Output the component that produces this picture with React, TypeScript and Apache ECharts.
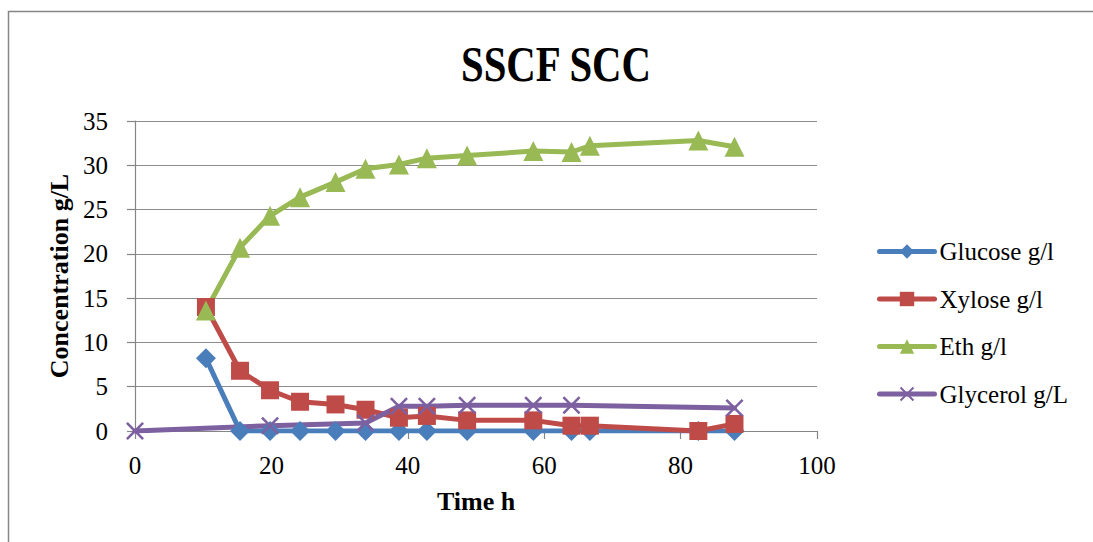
import React, { useEffect, useRef } from "react";
import * as echarts from "echarts";

const sugarTimes = [10.4, 15.4, 19.8, 24.2, 29.4, 33.8, 38.7, 42.8, 48.7, 58.4, 64, 66.7, 82.6, 87.9];
const glucose = [8.2, 0, 0, 0, 0, 0, 0, 0, 0, 0, 0, 0, 0, 0];
const xylose = [14.0, 6.8, 4.6, 3.3, 3.0, 2.4, 1.5, 1.7, 1.2, 1.2, 0.6, 0.6, 0.0, 0.8];
const ethanol = [13.6, 20.7, 24.3, 26.4, 28.1, 29.6, 30.1, 30.8, 31.1, 31.6, 31.5, 32.2, 32.8, 32.1];
const glycerolTimes = [0, 19.8, 33.8, 38.7, 42.8, 48.7, 58.4, 64, 87.9];
const glycerol = [0, 0.6, 0.9, 2.8, 2.8, 2.9, 2.9, 2.9, 2.6];

const seriesNames = ["Glucose g/l", "Xylose g/l", "Eth g/l", "Glycerol g/L"];
const colors = ["#4A7EBB", "#BE4B48", "#98B954", "#7D60A0"];

const pairs = (xs: number[], ys: number[]) => xs.map((x, i) => [x, ys[i]]);

const X_PATH = "path://M0,1L1,0L5,4L9,0L10,1L6,5L10,9L9,10L5,6L1,10L0,9L4,5Z";
const FONT = "Liberation Serif";

export default function App() {
  const ref = useRef<HTMLDivElement>(null);
  useEffect(() => {
    if (!ref.current) return;
    const chart = echarts.init(ref.current, undefined, { renderer: "svg" });
    const mk = (i: number, data: number[][], symbol: string, size: number) => ({
      name: seriesNames[i],
      type: "line",
      data,
      symbol,
      symbolSize: size,
      showAllSymbol: true,
      lineStyle: { color: colors[i], width: 5, cap: "round", join: "round" },
      itemStyle: { color: colors[i] },
    });
    chart.setOption({
      animation: false,
      graphic: [
        {
          type: "rect",
          shape: { x: 8.5, y: 11.5, width: 1200, height: 700 },
          style: { fill: "none", stroke: "#868686", lineWidth: 1.5 },
          silent: true,
        },
        {
          type: "text",
          x: 556,
          y: 64,
          scaleX: 0.8,
          style: {
            text: "SSCF SCC",
            font: `bold 51px "${FONT}"`,
            fill: "#000",
            textAlign: "center",
            textVerticalAlign: "middle",
          },
        },
      ],
      grid: { left: 135, right: 276, top: 121, bottom: 111, containLabel: false },
      legend: {
        orient: "vertical",
        left: 877,
        top: 239,
        padding: 0,
        itemWidth: 55,
        itemHeight: 18,
        itemGap: 22.5,
        lineStyle: { width: 5, cap: "round" },
        textStyle: { fontFamily: FONT, fontSize: 25, color: "#000", lineHeight: 25 },
        data: seriesNames,
      },
      xAxis: {
        type: "value",
        min: 0,
        max: 100,
        interval: 20,
        name: "Time h",
        nameLocation: "middle",
        nameGap: 57,
        nameTextStyle: { fontFamily: FONT, fontSize: 26, fontWeight: "bold", color: "#000" },
        axisLine: { lineStyle: { color: "#868686", width: 1.2 } },
        axisTick: { show: true, length: 8, inside: false, lineStyle: { color: "#868686", width: 1.2 } },
        axisLabel: { fontFamily: FONT, fontSize: 25, color: "#000", margin: 22 },
        splitLine: { show: false },
      },
      yAxis: {
        type: "value",
        min: 0,
        max: 35,
        interval: 5,
        name: "Concentration g/L",
        nameLocation: "middle",
        nameGap: 62,
        nameTextStyle: { fontFamily: FONT, fontSize: 26, fontWeight: "bold", color: "#000" },
        axisLine: { show: true, lineStyle: { color: "#868686", width: 1.2 } },
        axisTick: { show: true, length: 8, inside: false, lineStyle: { color: "#868686", width: 1.2 } },
        axisLabel: { fontFamily: FONT, fontSize: 25, color: "#000", margin: 27 },
        splitLine: { show: true, lineStyle: { color: "#8C8C8C", width: 1.2 } },
      },
      series: [
        mk(0, pairs(sugarTimes, glucose), "diamond", 20),
        mk(1, pairs(sugarTimes, xylose), "rect", 18),
        mk(2, pairs(sugarTimes, ethanol), "triangle", 20),
        mk(3, pairs(glycerolTimes, glycerol), X_PATH, 18),
      ],
    });
    return () => chart.dispose();
  }, []);
  return (
    <div
      ref={ref}
      style={{ position: "absolute", left: 0, top: 0, width: 1093, height: 542, background: "#fff" }}
    />
  );
}
